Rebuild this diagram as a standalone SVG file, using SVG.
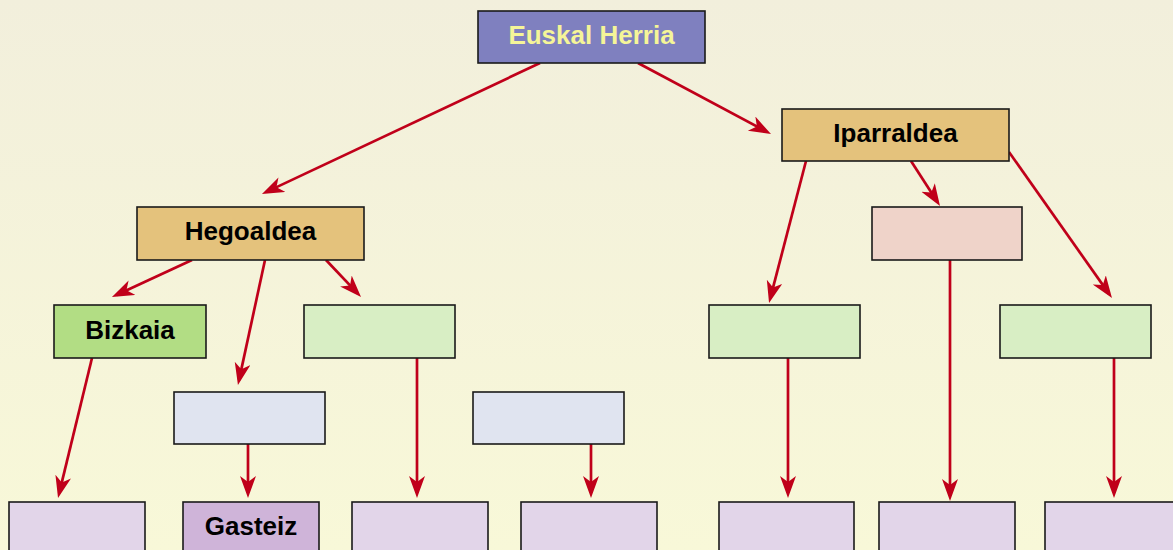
<svg xmlns="http://www.w3.org/2000/svg" width="1173" height="550" viewBox="0 0 1173 550">
<defs>
<linearGradient id="bg" x1="0" y1="0" x2="0" y2="1">
<stop offset="0" stop-color="#f2efdc"/>
<stop offset="1" stop-color="#f8f8d8"/>
</linearGradient>
<marker id="ah" markerUnits="userSpaceOnUse" markerWidth="24" markerHeight="18" refX="17" refY="8" orient="auto">
<path d="M0,0 L22,8 L0,16 L6,8 z" fill="#c0001a"/>
</marker>
<style>
.n rect{stroke:#1a1a1a;stroke-width:1.6}
.t{font-family:"Liberation Sans",Arial,sans-serif;font-weight:bold;font-size:26px;text-anchor:middle;fill:#000}
#edges line{stroke:#c0001a;stroke-width:2.7;marker-end:url(#ah)}
</style>
</defs>
<rect x="0" y="0" width="1173" height="550" fill="url(#bg)"/>
<g id="edges">
<line x1="540" y1="63" x2="266.5" y2="191.9"/>
<line x1="638" y1="63" x2="766.6" y2="131.6"/>
<line x1="192" y1="260" x2="116.5" y2="294.9"/>
<line x1="265" y1="260" x2="239" y2="380.1"/>
<line x1="326" y1="260" x2="357.6" y2="293.4"/>
<line x1="806" y1="161" x2="770.3" y2="298.2"/>
<line x1="911" y1="161" x2="937.3" y2="201.8"/>
<line x1="1009" y1="152" x2="1109.1" y2="293.9"/>
<line x1="92" y1="358" x2="59.2" y2="493.1"/>
<line x1="248" y1="444" x2="248" y2="493"/>
<line x1="417" y1="358" x2="417" y2="493"/>
<line x1="591" y1="444" x2="591" y2="493"/>
<line x1="788" y1="358" x2="788" y2="493"/>
<line x1="950" y1="260" x2="950" y2="496"/>
<line x1="1114" y1="358" x2="1114" y2="493"/>
</g>
<g id="euskal-herria" class="n"><rect x="478" y="11" width="227" height="52" fill="#7f80bf"/><text class="t" x="591.5" y="43.5" style="fill:#f5f598">Euskal Herria</text></g>
<g id="hegoaldea" class="n"><rect x="137" y="207" width="227" height="53" fill="#e4c27c"/><text class="t" x="250.5" y="239.5">Hegoaldea</text></g>
<g id="iparraldea" class="n"><rect x="782" y="109" width="227" height="52" fill="#e4c27c"/><text class="t" x="895.5" y="142">Iparraldea</text></g>
<g id="pink" class="n"><rect x="872" y="207" width="150" height="53" fill="#efd3c9"/></g>
<g id="bizkaia" class="n"><rect x="54" y="305" width="152" height="53" fill="#b2dd84"/><text class="t" x="130" y="338.5">Bizkaia</text></g>
<g id="green1" class="n"><rect x="304" y="305" width="151" height="53" fill="#d8eec4"/></g>
<g id="green2" class="n"><rect x="709" y="305" width="151" height="53" fill="#d8eec4"/></g>
<g id="green3" class="n"><rect x="1000" y="305" width="151" height="53" fill="#d8eec4"/></g>
<g id="blue1" class="n"><rect x="174" y="392" width="151" height="52" fill="#e0e4f0"/></g>
<g id="blue2" class="n"><rect x="473" y="392" width="151" height="52" fill="#e0e4f0"/></g>
<g id="bottom1" class="n"><rect x="9" y="502" width="136" height="54" fill="#e2d5e9"/></g>
<g id="gasteiz" class="n"><rect x="183" y="502" width="136" height="54" fill="#cfb4d9"/><text class="t" x="251" y="534.5">Gasteiz</text></g>
<g id="bottom3" class="n"><rect x="352" y="502" width="136" height="54" fill="#e2d5e9"/></g>
<g id="bottom4" class="n"><rect x="521" y="502" width="136" height="54" fill="#e2d5e9"/></g>
<g id="bottom5" class="n"><rect x="719" y="502" width="135" height="54" fill="#e2d5e9"/></g>
<g id="bottom6" class="n"><rect x="879" y="502" width="136" height="54" fill="#e2d5e9"/></g>
<g id="bottom7" class="n"><rect x="1045" y="502" width="136" height="54" fill="#e2d5e9"/></g>
</svg>
